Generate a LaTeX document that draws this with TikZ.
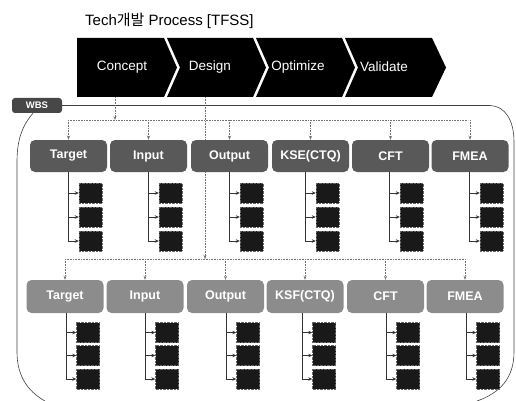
\documentclass[tikz,border=0pt]{standalone}
\usepackage{fontspec}
\setmainfont{Liberation Sans}
\newfontfamily\krfont{Noto Sans CJK KR}
\usetikzlibrary{arrows.meta,calc}
\begin{document}
\begin{tikzpicture}[x=1pt,y=-1pt,
  chev/.style={fill=black},
  chevtext/.style={text=white,font=\fontsize{13.5}{15}\selectfont},
  cat1/.style={rounded corners=5pt, fill=black!65, minimum width=77pt, minimum height=32pt, text=white, font=\bfseries\fontsize{12.5}{14}\selectfont, inner sep=0pt},
  cat2/.style={cat1, fill=black!45, minimum height=33pt},
  wbsbox/.style={rounded corners=3pt, fill=black!72, minimum width=50pt, minimum height=15pt, text=white, font=\bfseries\fontsize{9.5}{11}\selectfont, inner sep=0pt},
  leaf/.style={fill=black!90, draw=black!60, densely dotted, line width=0.4pt, minimum width=23pt, minimum height=20pt, inner sep=0pt},
  bus/.style={black!55, densely dotted, line width=0.6pt},
  busarrow/.style={bus, -{Stealth[length=4pt,width=3pt]}},
  tree/.style={black!80, line width=0.6pt},
  treearrow/.style={tree, -{Stealth[length=4pt,width=3.5pt]}},
  frame/.style={black!75, line width=0.6pt}]

\useasboundingbox (0,0) rectangle (516,401);

% title
\node[anchor=west, inner sep=0pt, font=\fontsize{15}{17}\selectfont] (title) at (85,21) {Tech{\krfont 개발} Process [TFSS]};

% chevrons
\fill[chev] (77,38) -- (164,38) -- (177,67.5) -- (164,97) -- (77,97) -- cycle;
\fill[chev] (167,38) -- (253,38) -- (266,67.5) -- (253,97) -- (167,97) -- (180,67.5) -- cycle;
\fill[chev] (256,38) -- (342,38) -- (355,67.5) -- (342,97) -- (256,97) -- (269,67.5) -- cycle;
\fill[chev] (345,38) -- (432,38) -- (446,67.5) -- (432,97) -- (345,97) -- (358,67.5) -- cycle;
\node[chevtext] (concept) at (122,67) {Concept};
\node[chevtext] (design) at (210,67) {Design};
\node[chevtext] (optimize) at (298,67) {Optimize};
\node[chevtext] (validate) at (384,67) {Validate};
\coordinate (conceptfoot) at (115,97);
\coordinate (designfoot) at (205,97);

% WBS and frame
\node[wbsbox] (wbs) at (37,105.5) {WBS};
\draw[frame] (wbs.east) -- (490,105.5) .. controls (505,106) and (514,120) .. (514,142) -- (514,352) .. controls (514,378) and (500,393) .. (477,401);
\draw[frame] ([xshift=-4pt]wbs.south) .. controls (22,126) and (17,140) .. (17,162) -- (17,352) .. controls (17,375) and (27,391) .. (45,401);

% buses
\coordinate (bus1w) at (68,120);
\coordinate (bus1e) at (468,120);
\coordinate (bus2w) at (65,259);
\coordinate (bus2e) at (465,259);
\draw[bus] (bus1w) -- (bus1e);
\draw[bus] (bus2w) -- (bus2e);
\draw[busarrow] (conceptfoot) -- (conceptfoot |- bus1w);
\draw[busarrow] (designfoot) -- (designfoot |- bus2w);

% row 1
\foreach \n/\lab/\cx/\vx in {a/Target/68.5/68, b/Input/148.5/148, c/Output/229.5/229, d/KSE(CTQ)/310.5/305, e/CFT/390.5/389, f/FMEA/470/469}{
  \node[cat1] (r1\n) at (\cx,156) {\lab};
  \draw[busarrow] (r1\n.north |- bus1w) -- (r1\n.north);
  \node[leaf] (r1\n1) at (\vx+22.5,193) {};
  \node[leaf] (r1\n2) at (\vx+22.5,217) {};
  \node[leaf] (r1\n3) at (\vx+22.5,241) {};
  \coordinate (r1\n v) at (\vx,172);
  \draw[treearrow] (r1\n v) |- (r1\n3.west);
  \draw[treearrow] (r1\n v |- r1\n1.west) -- (r1\n1.west);
  \draw[treearrow] (r1\n v |- r1\n2.west) -- (r1\n2.west);
}

% row 2
\foreach \n/\lab/\cx/\vx in {a/Target/65/66, b/Input/145/145, c/Output/225.5/226, d/KSF(CTQ)/305/302, e/CFT/385.5/386, f/FMEA/465/466}{
  \node[cat2] (r2\n) at (\cx,296.5) {\lab};
  \draw[busarrow] (r2\n.north |- bus2w) -- (r2\n.north);
  \node[leaf] (r2\n1) at (\vx+22,332.5) {};
  \node[leaf] (r2\n2) at (\vx+22,355.5) {};
  \node[leaf] (r2\n3) at (\vx+22,379) {};
  \coordinate (r2\n v) at (\vx,313);
  \draw[treearrow] (r2\n v) |- (r2\n3.west);
  \draw[treearrow] (r2\n v |- r2\n1.west) -- (r2\n1.west);
  \draw[treearrow] (r2\n v |- r2\n2.west) -- (r2\n2.west);
}
\end{tikzpicture}
\end{document}
